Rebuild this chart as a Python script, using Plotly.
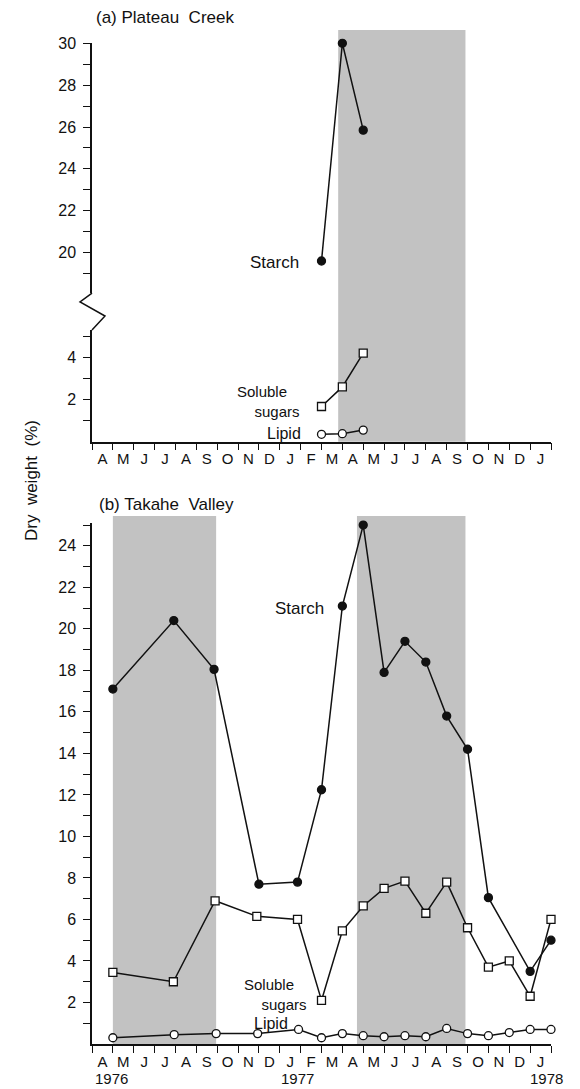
import plotly.graph_objects as go

# ---------------- data ----------------
months = ["A", "M", "J", "J", "A", "S", "O", "N", "D", "J", "F",
          "M", "A", "M", "J", "J", "A", "S", "O", "N", "D", "J"]   # Apr 1976 .. Jan 1978
years = ["1976", "1977", "1978"]
year_x = [0.95, 9.85, 21.8]

# (a) Plateau Creek  (x = months since 1 Apr 1976)
a_x = [11, 12, 13]
a_starch = [19.6, 30.0, 25.85]
a_sugars = [1.67, 2.6, 4.2]
a_lipid = [0.35, 0.38, 0.55]
a_winter = [(11.8, 17.9)]

# (b) Takahe Valley
b_starch_x = [1, 3.92, 5.85, 8, 9.85, 11, 12, 13, 14, 15, 16, 17, 18, 19, 21, 22]
b_starch = [17.1, 20.4, 18.05, 7.7, 7.8, 12.25, 21.1, 25.0, 17.9, 19.4, 18.4, 15.8, 14.2, 7.05, 3.5, 5.0]
b_sugars_x = [1, 3.9, 5.9, 7.9, 9.85, 11, 12, 13, 14, 15, 16, 17, 18, 19, 20, 21, 22]
b_sugars = [3.45, 3.0, 6.9, 6.15, 6.0, 2.1, 5.45, 6.65, 7.5, 7.85, 6.3, 7.8, 5.6, 3.7, 4.0, 2.3, 6.0]
b_lipid_x = [1, 3.94, 5.95, 7.94, 9.9, 11, 12, 13, 14, 15, 16, 17, 18, 19, 20, 21, 22]
b_lipid = [0.3, 0.45, 0.5, 0.5, 0.7, 0.3, 0.5, 0.4, 0.35, 0.4, 0.35, 0.75, 0.5, 0.4, 0.55, 0.7, 0.7]
b_winter = [(1.0, 5.95), (12.7, 17.9)]

# ---------------- layout helpers ----------------
W, H = 580, 1089
ML, MR, MT, MB = 92, 29, 30, 45
PW, PH = W - ML - MR, H - MT - MB


def py(p):          # pixel row -> paper fraction
    return (H - MB - p) / PH


def px(p):          # pixel column -> paper fraction
    return (p - ML) / PW


FONT = "Liberation Sans, Arial, Helvetica, sans-serif"
INK = "#111111"
SHADE = "#c2c2c2"

fig = go.Figure()


def series(x, y, xa, ya, symbol, filled):
    fig.add_trace(go.Scatter(
        x=x, y=y, xaxis=xa, yaxis=ya, mode="lines+markers",
        line=dict(color=INK, width=1.5),
        marker=dict(symbol=symbol, size=8,
                    color=INK if filled else "white",
                    line=dict(color=INK, width=1.3)),
        showlegend=False, cliponaxis=False))


# panel (a)
series(a_x, a_starch, "x", "y", "circle", True)
series(a_x, a_sugars, "x", "y3", "square", False)
series(a_x, a_lipid, "x", "y3", "circle", False)
# panel (b)
series(b_starch_x, b_starch, "x2", "y2", "circle", True)
series(b_sugars_x, b_sugars, "x2", "y2", "square", False)
series(b_lipid_x, b_lipid, "x2", "y2", "circle", False)

shapes = []
for x0, x1 in a_winter:
    shapes.append(dict(type="rect", xref="x", yref="paper", x0=x0, x1=x1,
                       y0=py(441.7), y1=py(30), fillcolor=SHADE,
                       line=dict(width=0), layer="below"))
for x0, x1 in b_winter:
    shapes.append(dict(type="rect", xref="x2", yref="paper", x0=x0, x1=x1,
                       y0=py(1044), y1=py(516), fillcolor=SHADE,
                       line=dict(width=0), layer="below"))
# axis break zig-zag on panel (a)
zz = [(92, 293), (80, 302), (105, 316), (92, 330)]
path = "M " + " L ".join(f"{px(a):.4f},{py(b):.4f}" for a, b in zz)
shapes.append(dict(type="path", xref="paper", yref="paper", path=path,
                   line=dict(color=INK, width=1.5)))

ax_common = dict(showline=True, linecolor=INK, linewidth=1.5, showgrid=False,
                 zeroline=False, ticks="outside", ticklen=7, tickwidth=1.3,
                 tickcolor=INK, tickfont=dict(family=FONT, size=16, color=INK))


def yticks(lo, hi):
    vals = list(range(lo, hi + 1))
    return vals, [str(v) if v % 2 == 0 else "" for v in vals]


ya_up_v, ya_up_t = yticks(19, 30)
ya_lo_v, ya_lo_t = yticks(1, 5)
yb_v, yb_t = yticks(1, 25)

xcommon = dict(showline=True, linecolor=INK, linewidth=1.5, showgrid=False,
               zeroline=False, range=[0, 22], domain=[0, 1],
               tickmode="array", tickvals=[i + 0.5 for i in range(len(months))],
               ticktext=months, ticks="", ticklabelstandoff=3,
               tickfont=dict(family=FONT, size=15, color=INK),
               minor=dict(tickmode="linear", tick0=0, dtick=1, ticks="outside",
                          ticklen=7, tickwidth=1.3, tickcolor=INK))

fig.update_layout(
    width=W, height=H, margin=dict(l=ML, r=MR, t=MT, b=MB),
    paper_bgcolor="white", plot_bgcolor="rgba(0,0,0,0)",
    xaxis=dict(**xcommon, anchor="y3"),
    yaxis=dict(**ax_common, domain=[py(293), py(43.3)], range=[18.07, 30],
               tickmode="array", tickvals=ya_up_v, ticktext=ya_up_t,
               anchor="x", ticklabelstandoff=4),
    yaxis3=dict(**ax_common, domain=[py(441.7), py(330)], range=[0, 5.3],
                tickmode="array", tickvals=ya_lo_v, ticktext=ya_lo_t,
                anchor="x", ticklabelstandoff=4),
    xaxis2=dict(**xcommon, anchor="y2"),
    yaxis2=dict(**ax_common, domain=[0, py(523)], range=[0, 25.1],
                tickmode="array", tickvals=yb_v, ticktext=yb_t,
                anchor="x2", ticklabelstandoff=4),
    shapes=shapes,
)

ann = []


def label(text, x, y, xref, yref, anchor="right", size=17, align="right",
          yanchor="middle"):
    ann.append(dict(text=text, x=x, y=y, xref=xref, yref=yref, showarrow=False,
                    xanchor=anchor, yanchor=yanchor, align=align, borderpad=0,
                    font=dict(family=FONT, size=size, color=INK)))


SUG = "Soluble\u00a0\u00a0\u00a0<br>sugars"
# panel (a) labels
label("Starch", 9.98, 19.55, "x", "y")
label(SUG, 10.03, 1.9, "x", "y3", size=15)
label("Lipid", 10.08, 0.37, "x", "y3", size=16)
# panel (b) labels
label("Starch", 11.15, 21.0, "x2", "y2")
label(SUG, 10.33, 2.4, "x2", "y2", size=15)
label("Lipid", 9.46, 1.0, "x2", "y2", size=16)
# titles
label("(a) Plateau\u00a0\u00a0Creek", px(95), py(18), "paper", "paper", "left")
label("(b) Takahe\u00a0\u00a0Valley", px(98), py(505), "paper", "paper", "left")
# years
for t, xv in zip(years, year_x):
    label(t, xv, py(1088), "x2", "paper", "center", size=15, yanchor="bottom")
# y title
ann.append(dict(text="Dry\u00a0\u00a0weight\u00a0\u00a0(%)", x=px(31), y=py(480),
                xref="paper", yref="paper", showarrow=False, textangle=-90,
                xanchor="center", yanchor="middle",
                font=dict(family=FONT, size=17, color=INK)))
fig.update_layout(annotations=ann)

fig.write_html("out.html",
               config={"displayModeBar": False},
               post_script="document.body.style.margin='0';"
                           "document.body.style.overflow='hidden';")
